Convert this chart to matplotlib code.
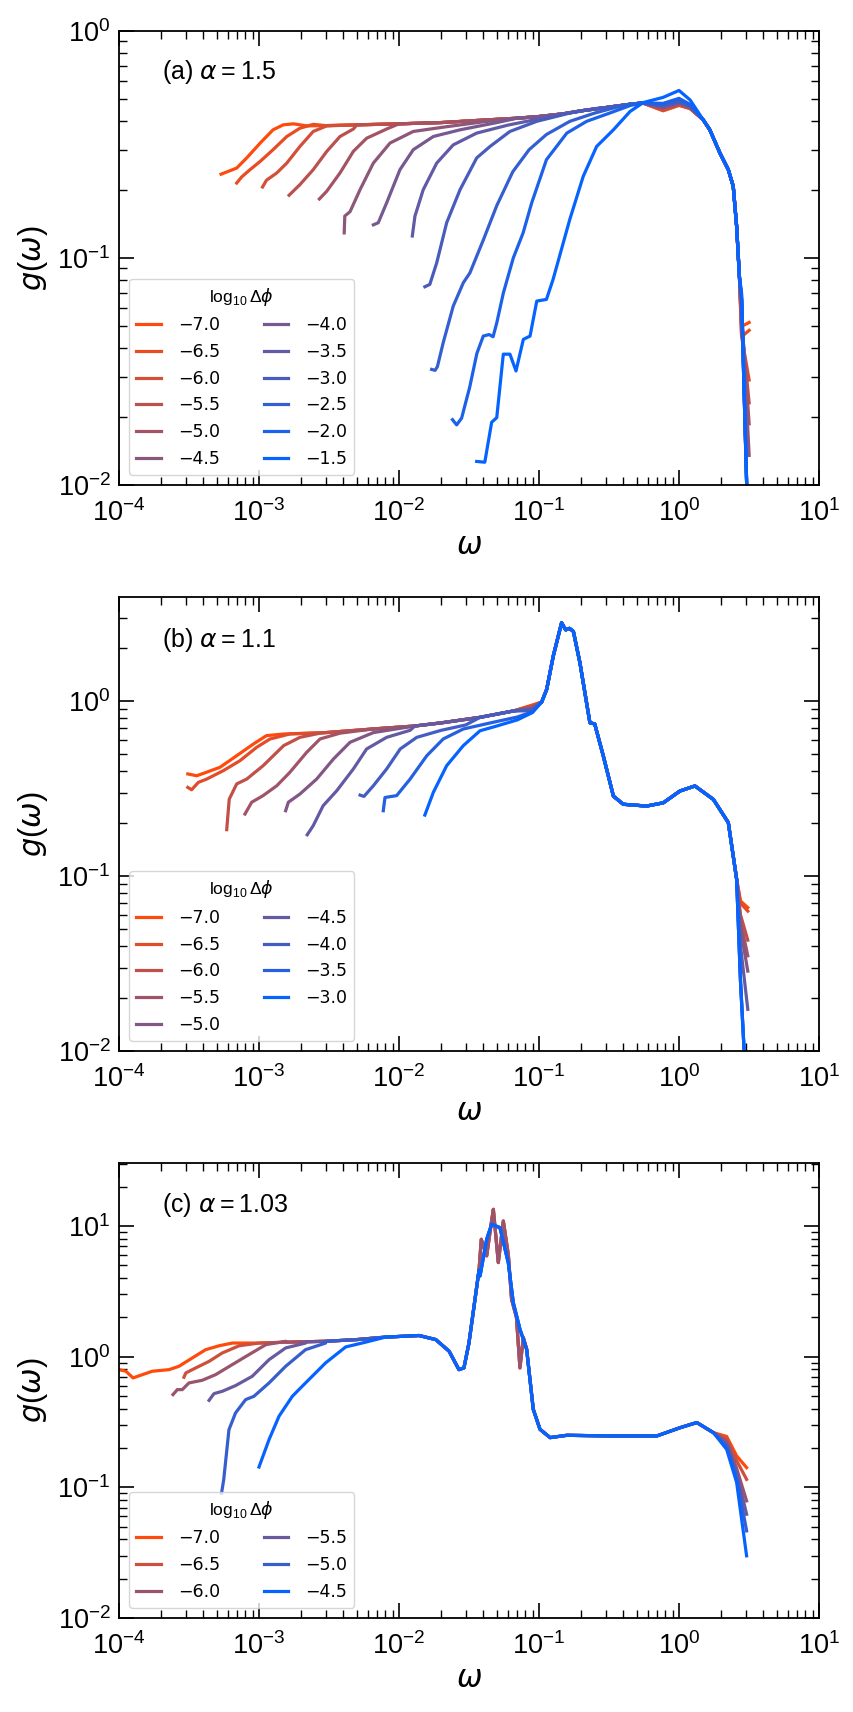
import numpy as np
import matplotlib
matplotlib.use("Agg")
import matplotlib.pyplot as plt
from matplotlib.ticker import LogLocator, NullFormatter

plt.rcParams['font.family'] = ['Liberation Sans', 'DejaVu Sans']
plt.rcParams['mathtext.fontset'] = 'custom'
plt.rcParams['mathtext.rm'] = 'Liberation Sans'
plt.rcParams['mathtext.it'] = 'DejaVu Sans:italic'
plt.rcParams['mathtext.bf'] = 'Liberation Sans:bold'
plt.rcParams['mathtext.fallback'] = 'stixsans'

# ---------------- Panel (a): alpha = 1.5 ----------------
A_LABELS = ['\u22127.0', '\u22126.5', '\u22126.0', '\u22125.5', '\u22125.0', '\u22124.5',
            '\u22124.0', '\u22123.5', '\u22123.0', '\u22122.5', '\u22122.0', '\u22121.5']
A_HEAD_W = [
    [5.36e-4, 6.93e-4, 8.17e-4, 1.02e-3, 1.26e-3, 1.49e-3, 1.76e-3, 2.19e-3],
    [6.93e-4, 7.52e-4, 8.63e-4, 1.02e-3, 1.26e-3, 1.58e-3, 1.96e-3, 2.44e-3],
    [1.06e-3, 1.13e-3, 1.34e-3, 1.58e-3, 1.96e-3, 2.44e-3, 3.05e-3],
    [1.64e-3, 1.96e-3, 2.44e-3, 3.05e-3, 3.79e-3, 4.72e-3],
    [2.7e-3, 3.05e-3, 3.79e-3, 4.72e-3, 5.87e-3, 8.16e-3],
    [4.06e-3, 4.1e-3, 4.47e-3, 5.27e-3, 6.56e-3, 8.63e-3, 0.01265, 0.0207, 0.04],
    [6.56e-3, 7.11e-3, 8.16e-3, 0.01016, 0.01265, 0.0176, 0.0273, 0.05],
    [0.01245, 0.013, 0.0149, 0.0186, 0.0244, 0.0359, 0.06, 0.1],
    [0.0153, 0.0166, 0.0186, 0.0219, 0.0273, 0.0359, 0.0447, 0.062, 0.0964, 0.166, 0.25],
    [0.0171, 0.0181, 0.0188, 0.0207, 0.0244, 0.0288, 0.0321, 0.040, 0.0499, 0.065, 0.085,
     0.113, 0.166, 0.25, 0.35],
    [0.0241, 0.0258, 0.028, 0.032, 0.036, 0.040, 0.044, 0.047, 0.050, 0.0556, 0.0655, 0.077,
     0.0887, 0.113, 0.158, 0.219, 0.32, 0.45],
    [0.0359, 0.041, 0.0459, 0.0499, 0.0556, 0.062, 0.0685, 0.0773, 0.0863, 0.0964, 0.113,
     0.126, 0.166, 0.207, 0.258, 0.34, 0.447, 0.556],
]
A_HEAD_G = [
    [0.234, 0.249, 0.276, 0.321, 0.367, 0.386, 0.39, 0.382],
    [0.214, 0.2275, 0.245, 0.2665, 0.30, 0.343, 0.373, 0.388],
    [0.2055, 0.22, 0.237, 0.262, 0.31, 0.361, 0.382],
    [0.189, 0.2105, 0.245, 0.295, 0.343, 0.37],
    [0.182, 0.197, 0.237, 0.295, 0.337, 0.37],
    [0.129, 0.153, 0.16, 0.2, 0.262, 0.321, 0.361, 0.377, 0.398],
    [0.140, 0.143, 0.175, 0.245, 0.30, 0.343, 0.367, 0.395],
    [0.125, 0.153, 0.2, 0.262, 0.315, 0.355, 0.385, 0.41],
    [0.0747, 0.0765, 0.0953, 0.143, 0.2, 0.276, 0.31, 0.361, 0.40, 0.435, 0.455],
    [0.0323, 0.032, 0.0332, 0.0424, 0.0614, 0.0778, 0.086, 0.12, 0.17, 0.24, 0.30,
     0.35, 0.40, 0.435, 0.46],
    [0.0194, 0.0184, 0.0197, 0.027, 0.038, 0.0453, 0.046, 0.045, 0.052, 0.07, 0.10, 0.129,
     0.175, 0.271, 0.355, 0.40, 0.435, 0.47],
    [0.0127, 0.0126, 0.0189, 0.0198, 0.0377, 0.0377, 0.0318, 0.0438, 0.0453, 0.0646, 0.0657,
     0.0804, 0.148, 0.229, 0.31, 0.367, 0.442, 0.484],
]
A_ENV_W = [2.2e-3, 3e-3, 5e-3, 0.01, 0.02, 0.04, 0.07, 0.1, 0.15, 0.2, 0.3, 0.45, 0.55]
A_ENV_G = [0.382, 0.383, 0.386, 0.39, 0.395, 0.405, 0.413, 0.42, 0.432, 0.445, 0.46, 0.476, 0.482]
A_BUMP_W = [0.77, 1.0, 1.2]
A_DIP_G = [0.445, 0.447, 0.45, 0.453, 0.456, 0.46, 0.463, 0.466, 0.47, 0.473, 0.48, 0.51]
A_PEAK_G = [0.47, 0.472, 0.474, 0.476, 0.478, 0.48, 0.483, 0.486, 0.49, 0.495, 0.505, 0.547]
A_POST_G = [0.455, 0.456, 0.457, 0.458, 0.46, 0.462, 0.464, 0.466, 0.468, 0.47, 0.475, 0.497]
A_TAIL_W = [1.49, 1.66, 1.96, 2.25, 2.44, 2.58, 2.7]
A_TAIL_G = [0.406, 0.367, 0.29, 0.245, 0.207, 0.138, 0.083]
A_END_W = [2.8, 3.17]
A_END1_G = [0.05, 0.045, 0.045, 0.05, 0.055, 0.06, 0.065, 0.065, 0.065, 0.066, 0.068, 0.07]
A_END2_G = [0.052, 0.048, 0.029, 0.023, 0.0186, 0.0135, 0.004, 0.004, 0.004, 0.004, 0.004, 0.004]

# ---------------- Panel (b): alpha = 1.1 ----------------
B_LABELS = ['\u22127.0', '\u22126.5', '\u22126.0', '\u22125.5', '\u22125.0',
            '\u22124.5', '\u22124.0', '\u22123.5', '\u22123.0']
B_HEAD_W = [
    [3.1e-4, 3.59e-4, 4.23e-4, 5.26e-4, 6.93e-4, 9.12e-4, 1.13e-3, 1.5e-3],
    [3.1e-4, 3.3e-4, 3.69e-4, 4.23e-4, 5.56e-4, 7.31e-4, 9.63e-4, 1.2e-3, 1.66e-3],
    [5.88e-4, 6.13e-4, 6.93e-4, 8.17e-4, 1.07e-3, 1.5e-3, 1.96e-3, 2.73e-3],
    [7.94e-4, 8.87e-4, 1.07e-3, 1.34e-3, 1.66e-3, 2.19e-3, 2.73e-3, 3.79e-3],
    [1.55e-3, 1.62e-3, 1.96e-3, 2.58e-3, 3.4e-3, 4.47e-3, 6.56e-3],
    [2.21e-3, 2.44e-3, 2.87e-3, 3.59e-3, 4.72e-3, 5.87e-3, 8.16e-3, 0.012],
    [5.27e-3, 5.62e-3, 6.56e-3, 8.16e-3, 0.0102, 0.0134, 0.02, 0.03],
    [7.72e-3, 7.94e-3, 9.62e-3, 0.012, 0.0158, 0.0207, 0.0288, 0.045, 0.07],
    [0.0153, 0.0176, 0.0219, 0.0288, 0.0379, 0.05, 0.07],
]
B_HEAD_G = [
    [0.383, 0.374, 0.392, 0.418, 0.487, 0.568, 0.634, 0.648],
    [0.321, 0.311, 0.343, 0.358, 0.40, 0.456, 0.544, 0.607, 0.648],
    [0.184, 0.275, 0.336, 0.358, 0.427, 0.556, 0.62, 0.655],
    [0.226, 0.264, 0.288, 0.328, 0.391, 0.509, 0.607, 0.655],
    [0.236, 0.264, 0.294, 0.358, 0.466, 0.581, 0.66],
    [0.172, 0.194, 0.252, 0.307, 0.409, 0.532, 0.62, 0.68],
    [0.29, 0.285, 0.328, 0.409, 0.532, 0.62, 0.68, 0.73],
    [0.236, 0.281, 0.288, 0.358, 0.487, 0.607, 0.692, 0.75, 0.81],
    [0.223, 0.301, 0.427, 0.556, 0.676, 0.72, 0.78],
]
B_ENV_W = [1.5e-3, 3e-3, 6.5e-3, 0.013, 0.02, 0.038, 0.0655]
B_ENV_G = [0.648, 0.66, 0.692, 0.72, 0.75, 0.807, 0.877]
B_PRE_W = 0.09
B_PRE_G = [0.95, 0.94, 0.93, 0.92, 0.91, 0.9, 0.88, 0.87, 0.86]
B_SHARED_W = [0.1045, 0.1135, 0.1265, 0.145, 0.155, 0.165, 0.176, 0.196, 0.231, 0.25, 0.288,
              0.34, 0.40, 0.587, 0.772, 1.016, 1.3, 1.76, 2.25, 2.58]
B_SHARED_G = [0.987, 1.166, 1.81, 2.8, 2.55, 2.6, 2.5, 1.655, 0.751, 0.74, 0.485,
              0.286, 0.257, 0.251, 0.262, 0.306, 0.327, 0.274, 0.202, 0.096]
B_END_W = [2.75, 3.1]
B_MID_G = [0.072, 0.07, 0.06, 0.055, 0.05, 0.04, 0.025, 0.025, 0.025]
B_END_G = [0.066, 0.063, 0.043, 0.035, 0.0286, 0.0173, 0.004, 0.004, 0.004]

# ---------------- Panel (c): alpha = 1.03 ----------------
C_LABELS = ['\u22127.0', '\u22126.5', '\u22126.0', '\u22125.5', '\u22125.0', '\u22124.5']
C_HEAD_W = [
    [1e-4, 1.12e-4, 1.26e-4, 1.47e-4, 1.73e-4, 2.28e-4, 2.68e-4, 3.34e-4, 4.16e-4, 5.18e-4, 6.45e-4],
    [2.91e-4, 3.0e-4, 3.53e-4, 4.4e-4, 5.47e-4, 7.2e-4, 1e-3],
    [2.43e-4, 2.61e-4, 2.83e-4, 3.16e-4, 3.93e-4, 4.9e-4, 6.45e-4, 8.48e-4, 1.12e-3, 1.55e-3],
    [4.4e-4, 4.77e-4, 5.47e-4, 6.8e-4, 8.95e-4, 1.18e-3, 1.55e-3, 2.15e-3],
    [5.4e-4, 5.6e-4, 6.1e-4, 6.8e-4, 8.03e-4, 9.2e-4, 1.18e-3, 1.55e-3, 2.15e-3, 2.99e-3],
    [1e-3, 1.18e-3, 1.39e-3, 1.73e-3, 2.15e-3, 2.99e-3, 4.16e-3, 5.78e-3],
]
C_HEAD_G = [
    [0.795, 0.773, 0.687, 0.728, 0.773, 0.795, 0.843, 0.977, 1.13, 1.21, 1.27],
    [0.695, 0.75, 0.819, 0.92, 1.067, 1.21, 1.27],
    [0.512, 0.559, 0.559, 0.629, 0.659, 0.728, 0.869, 1.036, 1.235, 1.31],
    [0.463, 0.521, 0.543, 0.6, 0.707, 0.948, 1.165, 1.27],
    [0.09, 0.115, 0.276, 0.371, 0.469, 0.497, 0.629, 0.843, 1.13, 1.27],
    [0.143, 0.232, 0.35, 0.497, 0.629, 0.895, 1.186, 1.29],
]
C_ENV_W = [1e-3, 1.6e-3, 2.2e-3, 3e-3, 5e-3, 8e-3, 0.0139, 0.0183, 0.0228, 0.0268, 0.0291,
           0.0316, 0.0373]
C_ENV_G = [1.27, 1.29, 1.3, 1.31, 1.35, 1.41, 1.45, 1.35, 1.1, 0.795, 0.82, 1.27, 4.6]
C_PEAK_ROUGH_W = [0.0387, 0.0423, 0.0459, 0.0472, 0.0512, 0.0556, 0.0604, 0.0637, 0.069,
                  0.0731, 0.0773, 0.0816]
C_PEAK_ROUGH_G = [7.9, 5.9, 11.0, 13.4, 5.24, 10.9, 6.0, 2.74, 2.0, 0.82, 1.4, 1.14]
C_PEAK_SMOOTH_W = [0.0379, 0.0423, 0.0459, 0.0526, 0.0604, 0.0655, 0.0731, 0.0816]
C_PEAK_SMOOTH_G = [4.14, 7.9, 10.3, 9.7, 5.2, 2.59, 1.62, 1.14]
C_ROUGH = [True, True, True, False, False, False]
C_SHARED_W = [0.091, 0.1016, 0.12, 0.158, 0.34, 0.693, 1.02, 1.34, 1.76]
C_SHARED_G = [0.395, 0.278, 0.24, 0.25, 0.247, 0.247, 0.286, 0.313, 0.262]
C_TAIL_W = [2.19, 2.58, 3.04]
C_T1_G = [0.245, 0.235, 0.225, 0.215, 0.205, 0.195]
C_T2_G = [0.174, 0.16, 0.14, 0.13, 0.12, 0.109]
C_END_G = [0.1415, 0.115, 0.0787, 0.0622, 0.0464, 0.0299]


def gradient(n):
    c0 = np.array([1.0, 0.29, 0.05])
    c1 = np.array([0.02, 0.39, 1.0])
    return [tuple(c0 * (1 - t) + c1 * t) for t in np.linspace(0, 1, n)]


def join(head_w, head_g, env_w, env_g, rest_w, rest_g):
    w = list(head_w)
    g = list(head_g)
    last = head_w[-1]
    for x, y in zip(env_w, env_g):
        if x > last * 1.001:
            w.append(x)
            g.append(y)
    w += list(rest_w)
    g += list(rest_g)
    return w, g


def style_axes(ax, ylim):
    ax.set_xscale('log')
    ax.set_yscale('log')
    ax.set_xlim(1e-4, 1e1)
    ax.set_ylim(*ylim)
    for a in (ax.xaxis, ax.yaxis):
        a.set_major_locator(LogLocator(base=10, numticks=30))
        a.set_minor_locator(LogLocator(base=10, subs=np.arange(2, 10), numticks=100))
        a.set_minor_formatter(NullFormatter())
    ax.tick_params(which='both', direction='in', top=True, right=True)
    ax.tick_params(which='major', length=11, width=1.2, labelsize=19.5)
    ax.tick_params(axis='x', which='major', pad=10)
    ax.tick_params(axis='y', which='major', pad=6)
    ax.tick_params(which='minor', length=6, width=1.0)
    for s in ax.spines.values():
        s.set_linewidth(1.3)
    ax.set_xlabel(r'$\omega$', fontsize=22, labelpad=3)
    ax.set_ylabel(r'$g(\omega)$', fontsize=22, labelpad=5)


def add_legend(ax):
    ax.legend(loc='lower left', ncol=2, title=r'$\log_{10}\Delta\phi$',
              prop={'family': 'DejaVu Sans', 'size': 12.5}, title_fontsize=12.5,
              handlelength=1.4, handletextpad=1.0, columnspacing=2.5,
              labelspacing=0.5, borderaxespad=0.6)


fig = plt.figure(figsize=(8.54, 17.12), dpi=100)
H = 1712.0
W = 854.0
ax_a = fig.add_axes([119 / W, (H - 485) / H, 700 / W, 454 / H])
ax_b = fig.add_axes([119 / W, (H - 1051) / H, 700 / W, 454 / H])
ax_c = fig.add_axes([119 / W, (H - 1618) / H, 700 / W, 455 / H])

LW = 2.3

# Panel a
cols = gradient(len(A_LABELS))
for i, lab in enumerate(A_LABELS):
    rest_w = A_BUMP_W + A_TAIL_W + A_END_W
    rest_g = [A_DIP_G[i], A_PEAK_G[i], A_POST_G[i]] + A_TAIL_G + [A_END1_G[i], A_END2_G[i]]
    w, g = join(A_HEAD_W[i], A_HEAD_G[i], A_ENV_W, A_ENV_G, rest_w, rest_g)
    ax_a.plot(w, g, color=cols[i], lw=LW, label=lab)
style_axes(ax_a, (1e-2, 1e0))
ax_a.text(0.061, 0.91, r'(a) $\alpha = 1.5$', transform=ax_a.transAxes, fontsize=18, va='center')
add_legend(ax_a)

# Panel b
cols = gradient(len(B_LABELS))
for i, lab in enumerate(B_LABELS):
    rest_w = [B_PRE_W] + B_SHARED_W + B_END_W
    rest_g = [B_PRE_G[i]] + B_SHARED_G + [B_MID_G[i], B_END_G[i]]
    w, g = join(B_HEAD_W[i], B_HEAD_G[i], B_ENV_W, B_ENV_G, rest_w, rest_g)
    ax_b.plot(w, g, color=cols[i], lw=LW, label=lab)
style_axes(ax_b, (1e-2, 3.93))
ax_b.text(0.061, 0.906, r'(b) $\alpha = 1.1$', transform=ax_b.transAxes, fontsize=18, va='center')
add_legend(ax_b)

# Panel c
cols = gradient(len(C_LABELS))
for i, lab in enumerate(C_LABELS):
    if C_ROUGH[i]:
        pw, pg = C_PEAK_ROUGH_W, C_PEAK_ROUGH_G
    else:
        pw, pg = C_PEAK_SMOOTH_W, C_PEAK_SMOOTH_G
    rest_w = list(pw) + C_SHARED_W + C_TAIL_W
    rest_g = list(pg) + C_SHARED_G + [C_T1_G[i], C_T2_G[i], C_END_G[i]]
    w, g = join(C_HEAD_W[i], C_HEAD_G[i], C_ENV_W, C_ENV_G, rest_w, rest_g)
    ax_c.plot(w, g, color=cols[i], lw=LW, label=lab)
style_axes(ax_c, (1e-2, 30.3))
ax_c.text(0.061, 0.907, r'(c) $\alpha = 1.03$', transform=ax_c.transAxes, fontsize=18, va='center')
add_legend(ax_c)

fig.savefig('out.png', dpi=100)
